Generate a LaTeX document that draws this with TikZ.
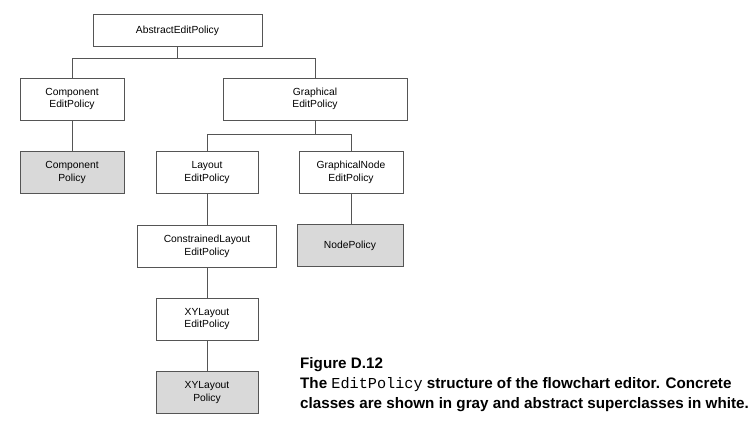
\documentclass[tikz,border=0pt]{standalone}
\usepackage{fontspec}
\setmainfont{Liberation Sans}
\setmonofont{Liberation Mono}
\definecolor{edge}{HTML}{555555}
\definecolor{concrete}{HTML}{D9D9D9}
\begin{document}
\begin{tikzpicture}[x=1pt,y=-1pt,
  cls/.style={draw=edge,line width=0.8pt,fill=white,minimum height=42pt,align=center,
    font=\fontsize{10.3}{12.5}\selectfont,inner sep=0pt},
  conc/.style={cls,fill=concrete},
  wire/.style={draw=edge,line width=0.8pt}]
\useasboundingbox (0,0) rectangle (755,431);
\node[cls,minimum width=169pt,minimum height=32pt] (abs) at (177.5,30.5) {AbstractEditPolicy};
\node[cls,minimum width=104pt] (comp) at (72,99) {Component\\EditPolicy};
\node[cls,minimum width=184pt] (graph) at (315,99) {Graphical\\EditPolicy};
\node[conc,minimum width=104pt] (compp) at (72,172.5) {Component\\Policy};
\node[cls,minimum width=102pt] (lay) at (207,172.5) {Layout\\EditPolicy};
\node[cls,minimum width=104pt] (gn) at (351,172.5) {GraphicalNode\\EditPolicy};
\node[cls,minimum width=139pt] (cl) at (207,246.5) {ConstrainedLayout\\EditPolicy};
\node[conc,minimum width=106pt] (np) at (350,245.5) {NodePolicy};
\node[cls,minimum width=102pt] (xye) at (207,319) {XYLayout\\EditPolicy};
\node[conc,minimum width=102pt] (xyp) at (207,392.5) {XYLayout\\Policy};
\coordinate (j1) at (177.5,58);
\coordinate (j2) at (315,134);
\draw[wire] (abs.south) -- (j1) -| (comp.north);
\draw[wire] (j1) -| (graph.north);
\draw[wire] (comp) -- (compp);
\draw[wire] (graph.south) -- (j2) -| (lay.north);
\draw[wire] (j2) -| (gn.north);
\draw[wire] (lay) -- (cl);
\draw[wire] (gn.south) -- (gn.south |- np.north);
\draw[wire] (cl) -- (xye);
\draw[wire] (xye) -- (xyp);
\node[anchor=base west,inner sep=0pt,align=left,font=\bfseries\fontsize{15.2}{20.3}\selectfont] (cap) at (300,408.6)
 {Figure D.12\\The {\mdseries\ttfamily EditPolicy} structure of the flowchart editor. Concrete\\classes are shown in gray and abstract superclasses in white.};
\end{tikzpicture}
\end{document}
